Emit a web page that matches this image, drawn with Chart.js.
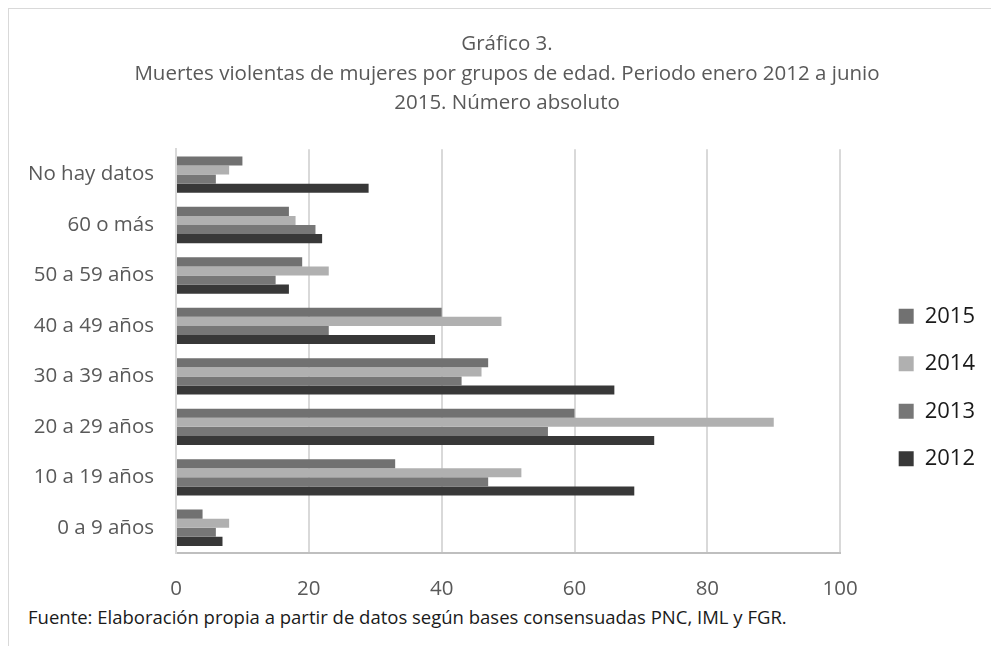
<!DOCTYPE html>
<html>
<head>
<meta charset="utf-8">
<script src="https://cdn.jsdelivr.net/npm/chart.js@4.4.1/dist/chart.umd.min.js"></script>
<style>
  html, body { margin: 0; padding: 0; background: #fff; overflow: hidden; }
  body { width: 991px; height: 646px; position: relative; }
  .frame {
    position: absolute; left: 8px; top: 8px; width: 1000px; height: 660px;
    border-left: 1px solid #d9d9d9; border-top: 1px solid #d9d9d9;
  }
  .wrap { position: absolute; left: 8px; top: 8px; width: 998px; height: 595px; }
  .note {
    position: absolute; left: 28px; top: 604px;
    font: 18.5px 'Open Sans', sans-serif; color: #1a1a1a; white-space: nowrap;
  }
</style>
</head>
<body>
<div class="frame"></div>
<div class="wrap"><canvas id="chart"></canvas></div>
<div class="note">Fuente: Elaboración propia a partir de datos según bases consensuadas PNC, IML y FGR.</div>
<script>
// Age groups, top to bottom as in the chart
const ageGroups = ['No hay datos', '60 o más', '50 a 59 años', '40 a 49 años',
    '30 a 39 años', '20 a 29 años', '10 a 19 años', '0 a 9 años'];

const deaths2015 = [10, 17, 19, 40, 47, 60, 33, 4];
const deaths2014 = [8, 18, 23, 49, 46, 90, 52, 8];
const deaths2013 = [6, 21, 15, 23, 43, 56, 47, 6];
const deaths2012 = [29, 22, 17, 39, 66, 72, 69, 7];

const xTicks = [0, 20, 40, 60, 80, 100];

const GREY = {
    text: '#595959',
    grid: '#d9d9d9',
    axis: '#bfbfbf'
};

function series(label, data, color) {
    return {
        label: label,
        data: data,
        backgroundColor: color,
        borderWidth: 0,
        categoryPercentage: 0.72,
        barPercentage: 1
    };
}

// Excel puts the legend lower and further right, and centres the title on the whole frame
const blockNudge = {
    id: 'blockNudge',
    afterLayout(chart) {
        const lg = chart.legend;
        if (lg) {
            lg.left += 33; lg.right += 33;
            lg.top += 82; lg.bottom += 82;
        }
        const tb = chart.titleBlock;
        if (tb) {
            tb.left += 27; tb.right += 27;
        }
    }
};

const ctx = document.getElementById('chart').getContext('2d');

new Chart(ctx, {
    type: 'bar',
    data: {
        labels: ageGroups,
        datasets: [
            series('2015', deaths2015, '#717171'),
            series('2014', deaths2014, '#b0b0b0'),
            series('2013', deaths2013, '#777777'),
            series('2012', deaths2012, '#383838')
        ]
    },
    plugins: [blockNudge],
    options: {
        indexAxis: 'y',
        responsive: true,
        maintainAspectRatio: false,
        animation: false,
        layout: { padding: { left: 0, right: 54, top: 0, bottom: 0 } },
        scales: {
            x: {
                min: 0,
                max: 100,
                afterBuildTicks: axis => { axis.ticks = xTicks.map(v => ({ value: v })); },
                grid: { color: GREY.grid, lineWidth: 2, drawTicks: false },
                border: { color: GREY.axis, width: 2 },
                ticks: {
                    color: GREY.text,
                    padding: 24,
                    font: { size: 20.5, family: "'Open Sans', sans-serif" }
                },
                afterFit: s => { s.height = 50; }
            },
            y: {
                grid: { display: false, drawTicks: false },
                border: { color: GREY.grid, width: 2 },
                ticks: {
                    color: GREY.text,
                    padding: 22,
                    font: { size: 20.5, family: "'Open Sans', sans-serif" }
                },
                afterFit: s => { s.width = 168; }
            }
        },
        plugins: {
            title: {
                display: true,
                text: ['Gráfico 3.',
                    'Muertes violentas de mujeres por grupos de edad. Periodo enero 2012 a junio',
                    '2015. Número absoluto'],
                color: GREY.text,
                font: { size: 20.5, weight: 'normal', family: "'Open Sans', sans-serif", lineHeight: 1.42 },
                padding: { top: 22, bottom: 32 }
            },
            legend: {
                position: 'right',
                labels: {
                    color: '#1a1a1a',
                    boxWidth: 15,
                    boxHeight: 15,
                    padding: 25.5,
                    font: { size: 22, family: "'Open Sans', sans-serif" }
                }
            },
            tooltip: { enabled: false }
        }
    }
});
</script>
</body>
</html>
